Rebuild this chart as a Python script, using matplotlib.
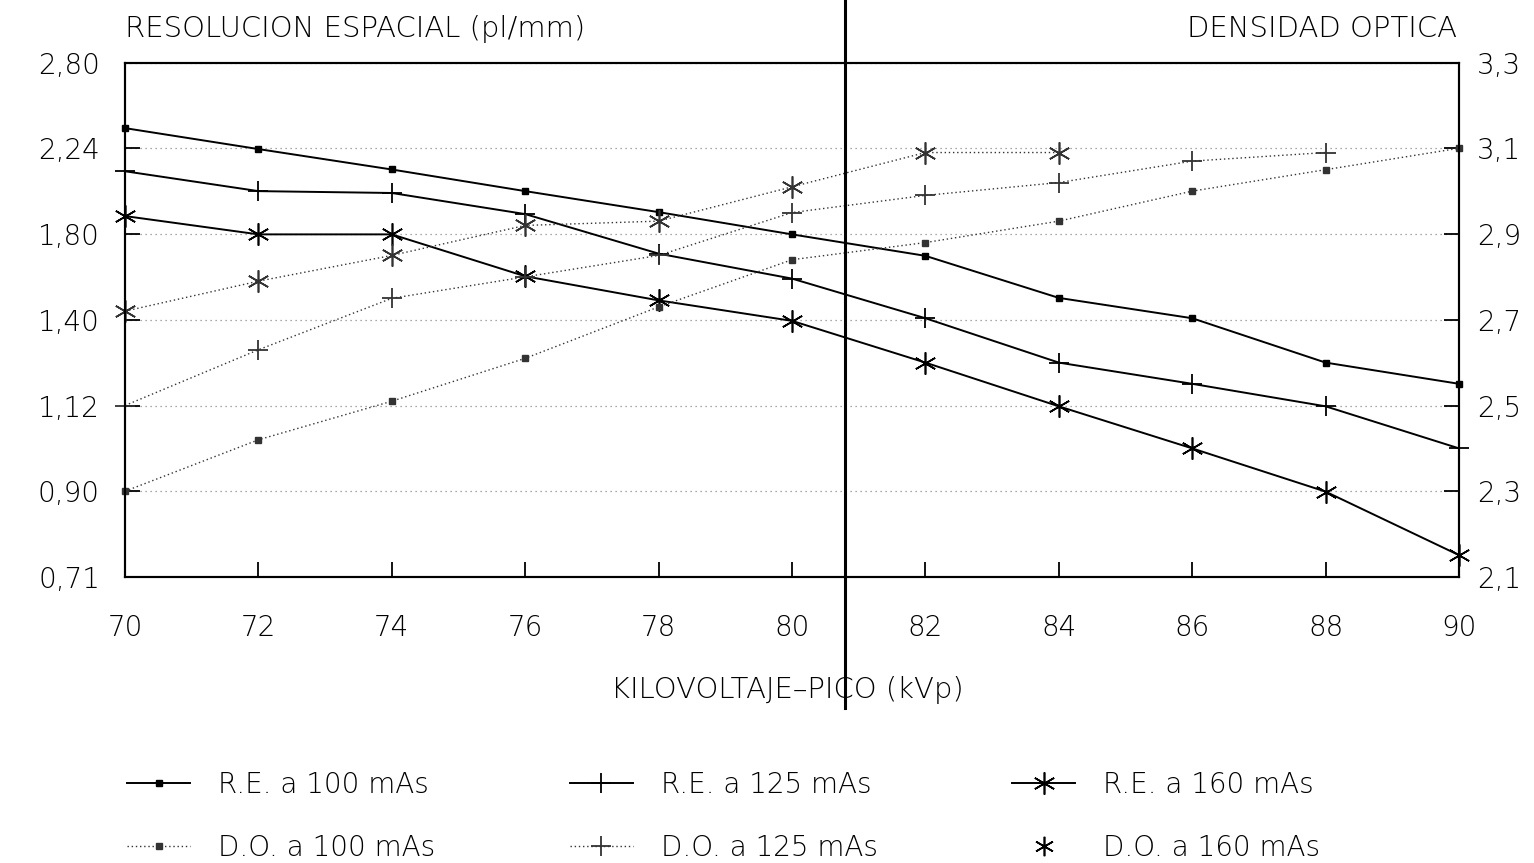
import numpy as np
import matplotlib
matplotlib.use("Agg")
import matplotlib.pyplot as plt
from matplotlib.lines import Line2D

plt.rcParams['font.family'] = ['DejaVu Sans']
plt.rcParams['font.weight'] = 'light'

# kilovoltaje-pico (kVp)
kvp = [70, 72, 74, 76, 78, 80, 82, 84, 86, 88, 90]

# resolucion espacial (pl/mm) - left axis
re_100 = [2.37, 2.24, 2.12, 2.00, 1.89, 1.78, 1.68, 1.50, 1.42, 1.26, 1.19]
re_125 = [2.11, 2.00, 1.99, 1.88, 1.69, 1.58, 1.42, 1.26, 1.19, 1.12, 1.00]
re_160 = [1.87, 1.78, 1.78, 1.59, 1.49, 1.41, 1.26, 1.12, 1.00, 0.89, 0.75]

# densidad optica - right axis (D.O. 125 ends at 88 kVp, D.O. 160 at 84 kVp)
do_100 = [2.30, 2.42, 2.51, 2.61, 2.73, 2.84, 2.88, 2.93, 3.00, 3.05, 3.10]
do_125 = [2.50, 2.63, 2.75, 2.80, 2.85, 2.95, 2.99, 3.02, 3.07, 3.09]
do_160 = [2.72, 2.79, 2.85, 2.92, 2.93, 3.01, 3.09, 3.09]

# axis ticks
re_tick_labels = ['0,71', '0,90', '1,12', '1,40', '1,80', '2,24', '2,80']
do_ticks = [2.1, 2.3, 2.5, 2.7, 2.9, 3.1, 3.3]
do_tick_labels = ['2,1', '2,3', '2,5', '2,7', '2,9', '3,1', '3,3']

labels = ['R.E. a 100 mAs', 'D.O. a 100 mAs',
          'R.E. a 125 mAs', 'D.O. a 125 mAs',
          'R.E. a 160 mAs', 'D.O. a 160 mAs']

W, H = 1534, 863
FS = 20
star = (6, 2, 0)

fig = plt.figure(figsize=(W / 100, H / 100), dpi=100)
ax = fig.add_axes([125 / W, 1 - 577 / H, (1459 - 125) / W, (577 - 62.5) / H])

# left axis is a 1/3-octave (log2) scale
re_tick_pos = np.exp2((np.arange(len(re_tick_labels)) - 1.5) / 3)
ax.set_yscale('log', base=2)
ax.set_xlim(kvp[0], kvp[-1])
ax.set_ylim(re_tick_pos[0], re_tick_pos[-1])
ax.set_xticks(kvp)
ax.set_xticklabels([str(k) for k in kvp])
ax.set_yticks(re_tick_pos)
ax.set_yticklabels(re_tick_labels)
ax.minorticks_off()
ax.grid(axis='y', ls=(0, (1, 3)), color='0.55', lw=0.9)

ax2 = ax.twinx()
ax2.set_ylim(do_ticks[0], do_ticks[-1])
ax2.set_yticks(do_ticks)
ax2.set_yticklabels(do_tick_labels)

for a in (ax, ax2):
    for s in a.spines.values():
        s.set_linewidth(1.5)
    a.tick_params(direction='in', length=11, width=1.3, labelsize=FS)
ax.tick_params(axis='x', pad=27)
ax.tick_params(axis='y', pad=18)
ax2.tick_params(axis='y', pad=13)

solid = dict(color='black', lw=1.4, clip_on=False)
dotted = dict(color='0.2', lw=1.0, ls=(0, (1, 2)), clip_on=False)

h1, = ax.plot(kvp, re_100, marker='s', ms=4, **solid)
h3, = ax.plot(kvp, re_125, marker='+', ms=15, mew=1.3, **solid)
h5, = ax.plot(kvp, re_160, marker=star, ms=16, mew=1.2, **solid)
h2, = ax2.plot(kvp, do_100, marker='s', ms=4, **dotted)
h4, = ax2.plot(kvp[:len(do_125)], do_125, marker='+', ms=15, mew=1.3, **dotted)
ax2.plot(kvp[:len(do_160)], do_160, marker=star, ms=16, mew=1.2, **dotted)
h6 = Line2D([], [], ls='none', marker=star, ms=14, mew=1.2, color='black')

fig.text(125 / W, 1 - 29 / H, 'RESOLUCION ESPACIAL (pl/mm)', fontsize=FS + 1,
         ha='left', va='center')
fig.text(1457 / W, 1 - 29 / H, 'DENSIDAD OPTICA', fontsize=FS + 1,
         ha='right', va='center')
fig.text(787 / W, 1 - 690 / H, 'KILOVOLTAJE–PICO (kVp)', fontsize=FS + 1,
         ha='center', va='center')

# fold line of the scanned page
fig.add_artist(Line2D([845 / W, 845 / W], [1.0, 1 - 708 / H], color='black',
                      lw=2.2, transform=fig.transFigure))

fig.legend([h1, h2, h3, h4, h5, h6], labels, ncol=3, loc='upper left',
           bbox_to_anchor=(127 / W, 1 - 771 / H), frameon=False, fontsize=FS,
           handlelength=2.27, handletextpad=1.0, columnspacing=4.85,
           labelspacing=1.25, borderpad=0, borderaxespad=0)

fig.savefig('out.png', dpi=100)
